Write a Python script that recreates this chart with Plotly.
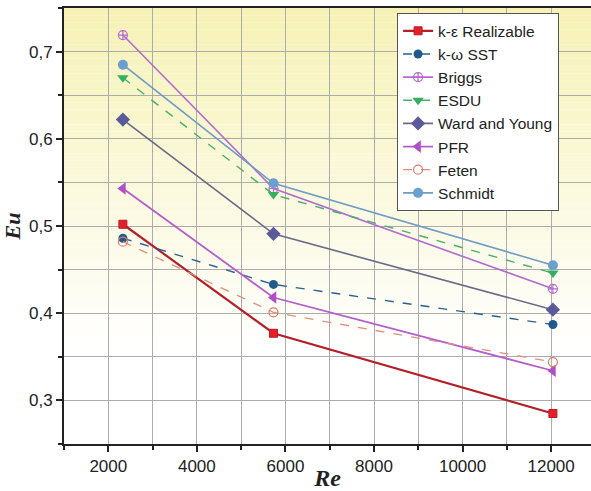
import plotly.graph_objects as go

# Reynolds numbers of the three test cases
re_values = [2330, 5730, 12040]

# Euler number for each model / correlation
eu_k_eps = [0.502, 0.377, 0.285]
eu_k_omega = [0.486, 0.433, 0.387]
eu_briggs = [0.719, 0.543, 0.428]
eu_esdu = [0.670, 0.536, 0.446]
eu_ward_young = [0.622, 0.491, 0.404]
eu_pfr = [0.543, 0.418, 0.334]
eu_feten = [0.482, 0.401, 0.344]
eu_schmidt = [0.685, 0.549, 0.455]

series = [
    ("k-\u03b5 Realizable", eu_k_eps, dict(color="#b3202a", width=2.2, dash="solid"),
     dict(symbol="square", color="#e3202a", size=8, line=dict(color="#c01820", width=1))),
    ("k-\u03c9 SST", eu_k_omega, dict(color="#2a5f8c", width=1.4, dash="dash"),
     dict(symbol="circle", color="#1f5a8a", size=9, line=dict(width=0))),
    ("Briggs", eu_briggs, dict(color="#b26ad0", width=1.6, dash="solid"),
     dict(symbol="circle-cross-open", color="#b66ad2", size=9, line=dict(width=1.2))),
    ("ESDU", eu_esdu, dict(color="#4cae6a", width=1.4, dash="dash"),
     dict(symbol="triangle-down", color="#33b060", size=10, line=dict(width=0))),
    ("Ward and Young", eu_ward_young, dict(color="#6a6a86", width=1.6, dash="solid"),
     dict(symbol="diamond", color="#5a5a9a", size=11, line=dict(width=0))),
    ("PFR", eu_pfr, dict(color="#b75ccc", width=1.8, dash="solid"),
     dict(symbol="triangle-left", color="#b04ec8", size=11, line=dict(width=0))),
    ("Feten", eu_feten, dict(color="#e0907c", width=1.3, dash="dash"),
     dict(symbol="circle-open", color="#e07868", size=9, line=dict(width=1.2))),
    ("Schmidt", eu_schmidt, dict(color="#6e9cc4", width=1.6, dash="solid"),
     dict(symbol="circle", color="#6a9fd0", size=10, line=dict(width=0))),
]

fig = go.Figure()
for name, vals, line, marker in series:
    fig.add_trace(go.Scatter(x=re_values, y=vals, name=name, mode="lines+markers",
                             line=line, marker=marker))

# Pale yellow-to-white vertical gradient behind the plot area
n_bands = 60
top_rgb = (246, 242, 182)
bot_rgb = (255, 255, 255)
shapes = []
for i in range(n_bands):
    t = i / (n_bands - 1)
    # stronger tint toward the top, fading to white near the bottom
    f = min(1.0, t / 0.78)
    r = round(top_rgb[0] + (bot_rgb[0] - top_rgb[0]) * f)
    g = round(top_rgb[1] + (bot_rgb[1] - top_rgb[1]) * f)
    b = round(top_rgb[2] + (bot_rgb[2] - top_rgb[2]) * f)
    shapes.append(dict(type="rect", xref="paper", yref="paper",
                       x0=0, x1=1, y0=1 - (i + 1) / n_bands, y1=1 - i / n_bands,
                       fillcolor=f"rgb({r},{g},{b})", line=dict(width=0), layer="below"))

grid_color = "#acacac"
tick_font = dict(family="Liberation Sans, Arial", size=17, color="#222")

fig.update_layout(
    width=591, height=491,
    margin=dict(l=64, r=0, t=8, b=47, autoexpand=False),
    paper_bgcolor="white",
    plot_bgcolor="rgba(0,0,0,0)",
    shapes=shapes,
    showlegend=True,
    legend=dict(x=0.632, y=0.988, xanchor="left", yanchor="top",
                bgcolor="white", bordercolor="#555", borderwidth=1,
                font=dict(family="Liberation Sans, Arial", size=15.5, color="#222"),
                tracegroupgap=0, itemwidth=30),
    xaxis=dict(range=[1000, 12900], tickmode="array",
               tickvals=[2000, 4000, 6000, 8000, 10000, 12000],
               showgrid=True, gridcolor=grid_color, gridwidth=1,
               minor=dict(dtick=1000, tick0=0, showgrid=True, gridcolor=grid_color,
                          ticks="outside", ticklen=4, tickcolor="#222"),
               ticks="outside", ticklen=6, tickwidth=1.5, tickcolor="#222",
               showline=True, linecolor="#222", linewidth=2, mirror=True,
               zeroline=False, tickfont=tick_font, tickformat="d", automargin=False,
               title=dict(text="<b><i>Re</i></b>", standoff=4,
                          font=dict(family="Liberation Serif, Times New Roman", size=24, color="#222"))),
    yaxis=dict(range=[0.25, 0.75], tickmode="array",
               tickvals=[0.3, 0.4, 0.5, 0.6, 0.7],
               ticktext=["0,3", "0,4", "0,5", "0,6", "0,7"],
               showgrid=True, gridcolor=grid_color, gridwidth=1,
               minor=dict(dtick=0.05, tick0=0, showgrid=True, gridcolor=grid_color,
                          ticks="outside", ticklen=4, tickcolor="#222"),
               ticks="outside", ticklen=6, tickwidth=1.5, tickcolor="#222",
               showline=True, linecolor="#222", linewidth=2, mirror=False,
               zeroline=False, tickfont=tick_font, automargin=False,
               title=dict(text="<b><i>Eu</i></b>", standoff=4,
                          font=dict(family="Liberation Serif, Times New Roman", size=22, color="#222"))),
)

fig.write_html("out.html")
